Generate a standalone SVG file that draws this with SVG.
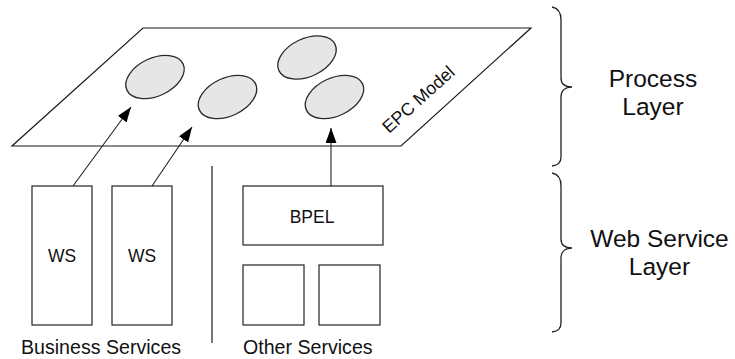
<svg xmlns="http://www.w3.org/2000/svg" width="735" height="359" viewBox="0 0 735 359">
  <style>
    .box { fill: #ffffff; stroke: #222222; stroke-width: 1.2; }
    .plane { fill: #ffffff; stroke: #1a1a1a; stroke-width: 1.2; stroke-linejoin: miter; }
    .activity { fill: #e6e6e6; stroke: #2a2a2a; stroke-width: 1.3; }
    .conn { fill: none; stroke: #222222; stroke-width: 1.1; }
    .brace { fill: none; stroke: #222222; stroke-width: 1.3; }
    .sep { stroke: #555555; stroke-width: 1.6; }
    text { font-family: "Liberation Sans", Arial, sans-serif; fill: #111111; }
    .lbl { font-size: 17.5px; text-anchor: middle; }
    .cap { font-size: 19.6px; }
    .layer { font-size: 24.5px; text-anchor: middle; }
    .model { font-size: 17.8px; }
  </style>
  <defs>
    <marker id="arrow" viewBox="0 0 15 11" refX="15" refY="5.5" markerWidth="15" markerHeight="11" markerUnits="userSpaceOnUse" orient="auto">
      <path d="M0,0 L15,5.5 L0,11 z" fill="#000000"/>
    </marker>
  </defs>

  <!-- process plane with EPC activities -->
  <g id="epc-model">
    <polygon class="plane" points="143,28 531,28 401,146 12,146"/>
    <ellipse class="activity" cx="155" cy="77" rx="31" ry="19" transform="rotate(-25 155 77)"/>
    <ellipse class="activity" cx="227.5" cy="97" rx="31" ry="19" transform="rotate(-25 227.5 97)"/>
    <ellipse class="activity" cx="307" cy="57.5" rx="31" ry="19" transform="rotate(-25 307 57.5)"/>
    <ellipse class="activity" cx="334.5" cy="97" rx="31" ry="19" transform="rotate(-25 334.5 97)"/>
    <text class="model" x="389" y="134" transform="rotate(-42 389 134)">EPC Model</text>
  </g>

  <!-- business services -->
  <g id="ws1">
    <rect class="box" x="32" y="186" width="60" height="139"/>
    <text class="lbl" x="62" y="262">WS</text>
  </g>
  <g id="ws2">
    <rect class="box" x="112" y="186" width="60" height="139"/>
    <text class="lbl" x="142" y="262">WS</text>
  </g>

  <!-- other services -->
  <g id="bpel">
    <rect class="box" x="243" y="186" width="140" height="59"/>
    <text class="lbl" x="312" y="223">BPEL</text>
  </g>
  <g id="service-a">
    <rect class="box" x="243" y="265" width="61" height="60"/>
  </g>
  <g id="service-b">
    <rect class="box" x="319" y="265" width="61" height="60"/>
  </g>

  <g id="divider">
    <line class="sep" x1="212" y1="166" x2="212" y2="343"/>
  </g>

  <g id="captions">
    <text class="cap" x="21" y="354">Business Services</text>
    <text class="cap" x="243" y="354">Other Services</text>
  </g>

  <!-- connectors from services up to activities -->
  <g id="connectors">
    <line class="conn" x1="73" y1="186" x2="131" y2="107" marker-end="url(#arrow)"/>
    <line class="conn" x1="152" y1="186" x2="192" y2="127" marker-end="url(#arrow)"/>
    <line class="conn" x1="331" y1="186" x2="331" y2="128" marker-end="url(#arrow)"/>
  </g>

  <!-- layer braces and labels -->
  <g id="process-layer">
    <path class="brace" d="M552,7 C558,8 561,12 561,20 L561,78 C561,84 565,87 572,87 C565,87 561,91 561,97 L561,157 C561,163 558,165 552,166"/>
    <text class="layer" x="653" y="87">Process</text>
    <text class="layer" x="653" y="115">Layer</text>
  </g>
  <g id="web-service-layer">
    <path class="brace" d="M552,173 C558,174 561,178 561,186 L561,239 C561,245 565,248 572,248 C565,248 561,252 561,258 L561,323 C561,329 558,331 552,332"/>
    <text class="layer" x="659.5" y="247">Web Service</text>
    <text class="layer" x="659.5" y="275">Layer</text>
  </g>
</svg>
